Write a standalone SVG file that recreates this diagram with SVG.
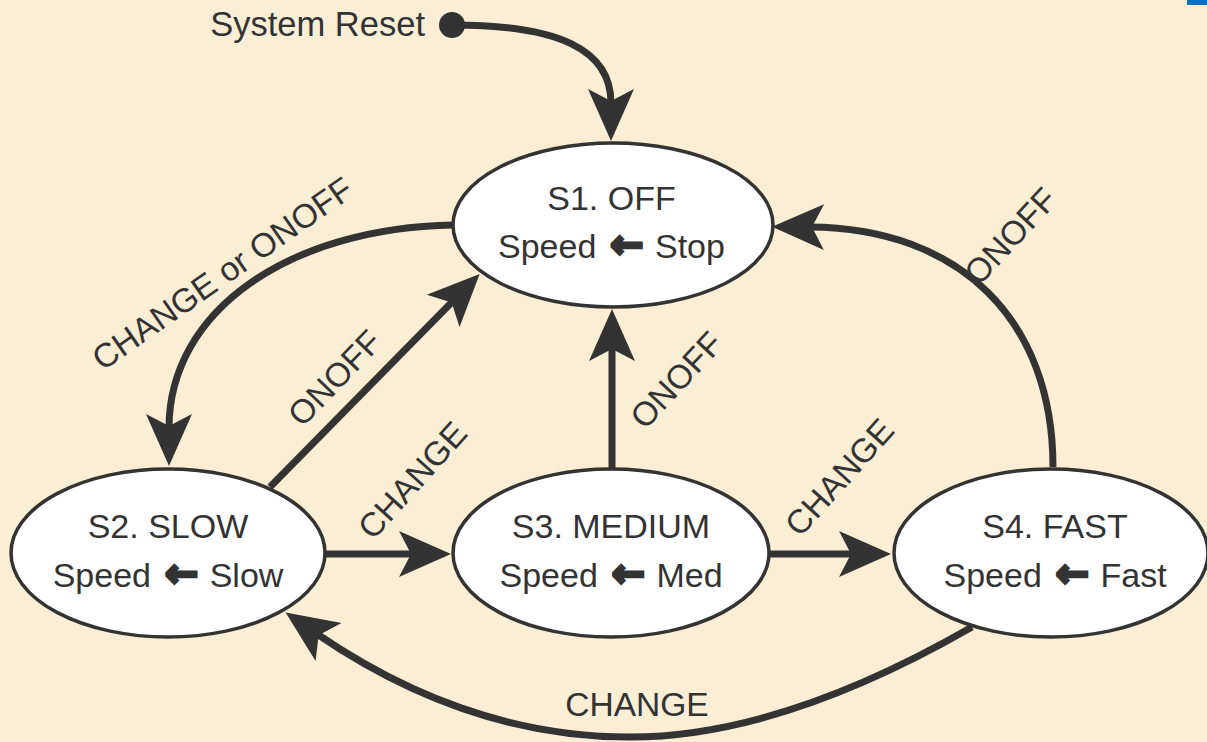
<svg xmlns="http://www.w3.org/2000/svg" width="1207" height="742" viewBox="0 0 1207 742">
<defs>
<style>
.bg{fill:#FAEED5}
.node ellipse{fill:#fff;stroke:#333;stroke-width:3.5}
.t{font-family:"Liberation Sans",Arial,Helvetica,sans-serif;font-size:34px;fill:#333}
.c{text-anchor:middle}
.arr{font-family:"DejaVu Sans",sans-serif;font-weight:bold;font-size:40px;stroke:#333;stroke-width:3;stroke-linejoin:miter}
.lbl{font-family:"Liberation Sans",Arial,Helvetica,sans-serif;font-size:33.5px;fill:#333;text-anchor:middle}
.edge{fill:none;stroke:#333;stroke-width:7}
</style>
<marker id="ah" markerUnits="userSpaceOnUse" markerWidth="60" markerHeight="50" refX="14" refY="24" orient="auto" viewBox="0 0 60 50">
<path d="M0,1 L52,24 L0,47 L12,24 Z" fill="#333"/>
</marker>
</defs>
<rect class="bg" x="0" y="0" width="1207" height="742"/>
<rect x="1187" y="0" width="20" height="5" fill="#0B6FC4"/>

<g id="connectors">
<g id="e-reset">
<circle cx="452" cy="25" r="13" fill="#333"/>
<path class="edge" d="M452,25 C560,25 611,50 611,103" marker-end="url(#ah)"/>
</g>
<g id="e-s1-s2">
<path class="edge" d="M453,225 C290,228 169,310 169,428" marker-end="url(#ah)"/>
<text class="lbl" transform="translate(229,283) rotate(-35)">CHANGE or ONOFF</text>
</g>
<g id="e-s2-s1">
<path class="edge" d="M270,487 L453,301" marker-end="url(#ah)"/>
<text class="lbl" transform="translate(343,386) rotate(-46)">ONOFF</text>
</g>
<g id="e-s2-s3">
<path class="edge" d="M325,554 L413,554" marker-end="url(#ah)"/>
<text class="lbl" transform="translate(421,488) rotate(-48)">CHANGE</text>
</g>
<g id="e-s3-s1">
<path class="edge" d="M612,470 L612,347" marker-end="url(#ah)"/>
<text class="lbl" transform="translate(685,388) rotate(-47)">ONOFF</text>
</g>
<g id="e-s3-s4">
<path class="edge" d="M768,554 L853,554" marker-end="url(#ah)"/>
<text class="lbl" transform="translate(848,485) rotate(-48)">CHANGE</text>
</g>
<g id="e-s4-s1">
<path class="edge" d="M1053,467 C1053,320 960,228 810,227" marker-end="url(#ah)"/>
<text class="lbl" transform="translate(1019,244) rotate(-47)">ONOFF</text>
</g>
<g id="e-s4-s2">
<path class="edge" d="M972,627 C845,700 731,737 630,737 C523,737 418,703 317,634" marker-end="url(#ah)"/>
<text class="lbl" x="637" y="716">CHANGE</text>
</g>
</g>

<text class="t" x="425" y="36" text-anchor="end" style="font-size:34.5px">System Reset</text>

<g id="s1" class="node">
<ellipse cx="613" cy="225" rx="160" ry="82"/>
<text class="t c" x="611.5" y="210">S1. OFF</text>
<text class="t" y="258"><tspan x="498">Speed </tspan><tspan class="arr" x="610">← </tspan><tspan x="655">Stop</tspan></text>
</g>
<g id="s2" class="node">
<ellipse cx="168" cy="553" rx="157" ry="84"/>
<text class="t c" x="168" y="538">S2. SLOW</text>
<text class="t" y="587"><tspan x="52.7">Speed </tspan><tspan class="arr" x="164.7">← </tspan><tspan x="209.7">Slow</tspan></text>
</g>
<g id="s3" class="node">
<ellipse cx="611" cy="553" rx="158" ry="84"/>
<text class="t c" x="611" y="538">S3. MEDIUM</text>
<text class="t" y="587"><tspan x="499.5">Speed </tspan><tspan class="arr" x="611.5">← </tspan><tspan x="656.5">Med</tspan></text>
</g>
<g id="s4" class="node">
<ellipse cx="1051" cy="553" rx="157" ry="84"/>
<text class="t c" x="1055" y="538">S4. FAST</text>
<text class="t" y="587"><tspan x="943.5">Speed </tspan><tspan class="arr" x="1055.5">← </tspan><tspan x="1100.5">Fast</tspan></text>
</g>
</svg>
